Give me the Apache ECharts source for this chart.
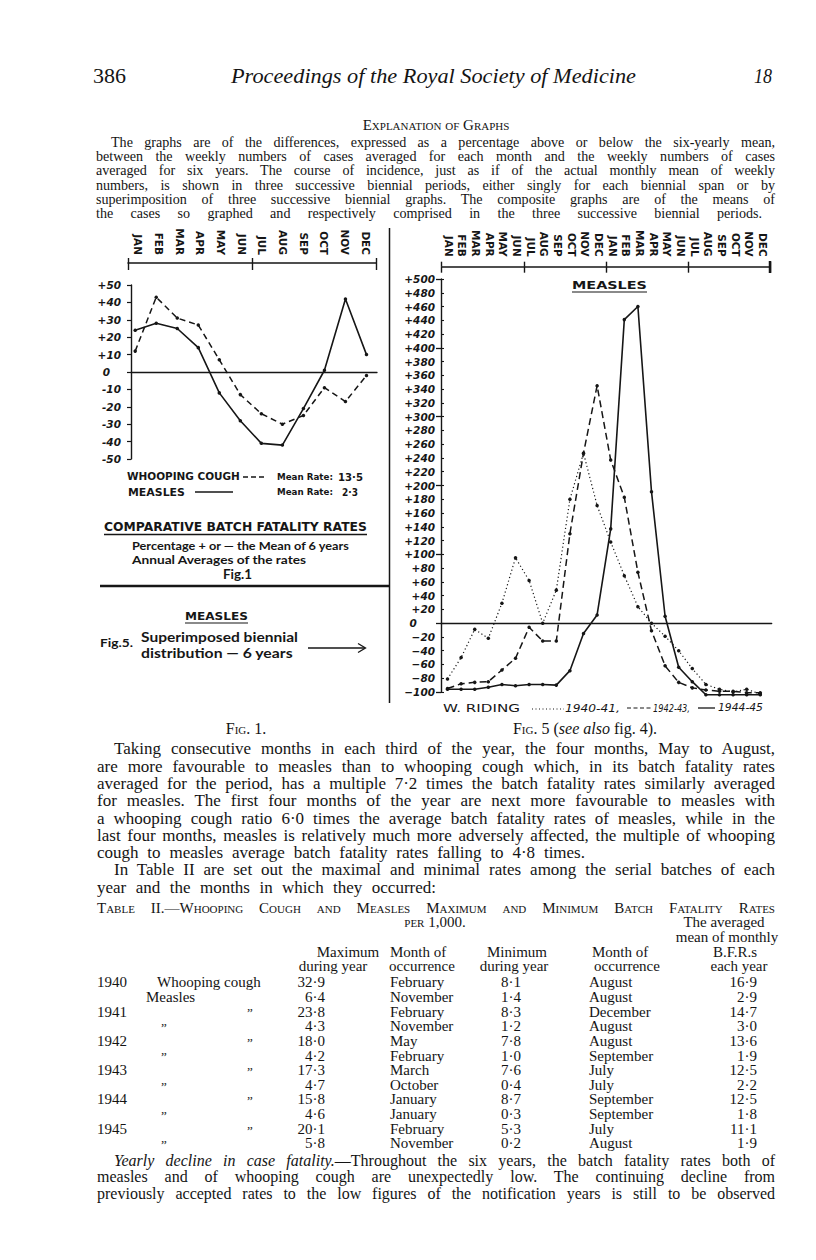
<!DOCTYPE html>
<html>
<head>
<meta charset="utf-8">
<title>Proceedings of the Royal Society of Medicine 386</title>
<script src="https://cdn.jsdelivr.net/npm/echarts@6/dist/echarts.min.js"></script>
<style>
  html, body { margin: 0; padding: 0; background: #fff; }
  #page { position: relative; width: 816px; height: 1260px; overflow: hidden; background: #fff; }
  #chart { position: absolute; left: 0; top: 0; width: 816px; height: 1260px; }
  .ln { position: absolute; white-space: nowrap; font-family: "Liberation Serif", serif; color: #141414; }
  .sc { font-variant: small-caps; }
</style>
</head>
<body>
<div id="page"><div id="chart"></div></div>
<script>
// ---- data ----
const months = ['JAN', 'FEB', 'MAR', 'APR', 'MAY', 'JUN', 'JUL', 'AUG', 'SEP', 'OCT', 'NOV', 'DEC'];
const monthsTwoYears = months.concat(months);

// Fig. 1: % above / below the 6-year mean of batch fatality rates
const whoopingCough = [12, 43, 31, 27, 7, -13, -24, -30, -25, -9, -17, -2];
const measlesRate = [24, 28, 25, 14, -12, -28, -41, -42, -21, 1, 42, 10];

// Fig. 5: measles, W. Riding, superimposed biennial periods
const riding1940 = [-81, -50, -9, -22, 29, 95, 62, 0, 48, 180, 247, 171, 118, 69, 24, 0, -19, -40, -66, -89, -96, -100, -96, -103];
const riding1942 = [-95, -88, -86, -85, -68, -51, -6, -26, -26, 130, 247, 345, 237, 183, 74, -11, -62, -86, -94, -97, -99, -99, -101, -101];
const riding1944 = [-96, -96, -96, -93, -89, -91, -89, -89, -90, -69, -15, 12, 137, 441, 460, 191, 10, -64, -85, -104, -104, -104, -104, -104];

// Table II
const tableYears = ['1940', '', '1941', '', '1942', '', '1943', '', '1944', '', '1945', ''];
const tableMax = ['32·9', '6·4', '23·8', '4·3', '18·0', '4·2', '17·3', '4·7', '15·8', '4·6', '20·1', '5·8'];
const tableMaxMonth = ['February', 'November', 'February', 'November', 'May', 'February', 'March', 'October', 'January', 'January', 'February', 'November'];
const tableMin = ['8·1', '1·4', '8·3', '1·2', '7·8', '1·0', '7·6', '0·4', '8·7', '0·3', '5·3', '0·2'];
const tableMinMonth = ['August', 'August', 'December', 'August', 'August', 'September', 'July', 'July', 'September', 'September', 'July', 'August'];
const tableMean = ['16·9', '2·9', '14·7', '3·0', '13·6', '1·9', '12·5', '2·2', '12·5', '1·8', '11·1', '1·9'];

const ink = '#161616';

// ---- helpers for the hand lettering inside the figures ----
const ctx = document.createElement('canvas').getContext('2d');
function measure(text, font) { ctx.font = font; return ctx.measureText(text).width; }
function letter(text, x1, x2, y, font) {
  return {
    type: 'text', x: x1, y: y, scaleX: (x2 - x1) / measure(text, font), silent: true,
    style: { text: text, font: font, fill: ink, textAlign: 'left', textVerticalAlign: 'middle' }
  };
}
function rule(x1, y1, x2, y2, w, dash) {
  return {
    type: 'line', silent: true, shape: { x1: x1, y1: y1, x2: x2, y2: y2 },
    style: { stroke: ink, lineWidth: w || 1, lineDash: dash || null }
  };
}
function signed(v, minus, zeroPad) {
  if (v > 0) return '+' + v;
  if (v < 0) return minus + Math.abs(v);
  return '0' + zeroPad;
}

const fLet = "bold 10px 'DejaVu Sans'";
const fHand = "bold 11px Lato";

const chart = echarts.init(document.getElementById('chart'), null, { renderer: 'svg', width: 816, height: 1260 });

const headerTicks = (grid, max, inside, len) => ({
  gridIndex: grid, type: 'value', position: 'top', min: 0, max: max, interval: 1,
  axisLine: { show: false, onZero: false },
  axisTick: { show: true, inside: inside, length: len, lineStyle: { color: ink, width: 1.4 } },
  axisLabel: { show: false }, splitLine: { show: false }
});

const option = {
  animation: false,
  textStyle: { fontFamily: 'DejaVu Sans', color: ink },
  grid: [
    { left: 128, top: 263, width: 248, height: 1 },       // fig 1 month header
    { left: 131, top: 285, width: 246, height: 174 },     // fig 1 plot
    { left: 441.7, top: 266.7, width: 328.3, height: 1 }, // fig 5 month header
    { left: 441, top: 279, width: 330.7, height: 413 }    // fig 5 plot
  ],
  xAxis: [
    { // 0
      gridIndex: 0, type: 'category', position: 'top', data: months, boundaryGap: true,
      axisLine: { onZero: false, lineStyle: { color: ink, width: 1.5 } },
      axisTick: { inside: true, length: 3, interval: 0, lineStyle: { color: ink, width: 1.2 } },
      axisLabel: { rotate: 90, interval: 0, margin: 8, fontSize: 10.5, fontWeight: 'bold', fontFamily: 'DejaVu Sans', color: ink }
    },
    headerTicks(0, 2, false, 5), // 1
    headerTicks(0, 2, true, 7),  // 2
    { // 3
      gridIndex: 1, type: 'value', min: -0.2, max: 11.5,
      axisLine: { onZero: true, lineStyle: { color: ink, width: 1.3 } },
      axisTick: { show: false }, axisLabel: { show: false }, splitLine: { show: false }
    },
    { // 4
      gridIndex: 2, type: 'category', position: 'top', data: monthsTwoYears, boundaryGap: true,
      axisLine: { onZero: false, lineStyle: { color: ink, width: 1.5 } },
      axisTick: { inside: true, length: 3, interval: 0, lineStyle: { color: ink, width: 1.2 } },
      axisLabel: { rotate: 90, interval: 0, margin: 10, fontSize: 10.5, fontWeight: 'bold', fontFamily: 'DejaVu Sans', color: ink }
    },
    headerTicks(2, 4, false, 5), // 5
    headerTicks(2, 4, true, 6),  // 6
    { // 7
      gridIndex: 3, type: 'value', min: -0.48, max: 23.84,
      axisLine: { onZero: true, lineStyle: { color: ink, width: 1.3 } },
      axisTick: { show: false }, axisLabel: { show: false }, splitLine: { show: false }
    }
  ],
  yAxis: [
    { gridIndex: 0, show: false },
    {
      gridIndex: 1, type: 'value', min: -50, max: 50, interval: 10,
      axisLine: { show: true, onZero: false, lineStyle: { color: ink, width: 1.4 } },
      axisTick: { show: true, length: 4, lineStyle: { color: ink, width: 1.2 } },
      axisLabel: {
        margin: 10, fontSize: 10.5, fontStyle: 'italic', fontWeight: 'bold', fontFamily: 'DejaVu Sans', color: ink,
        formatter: v => signed(v, '-', '\u00a0\u00a0\u00a0')
      },
      splitLine: { show: false }
    },
    { gridIndex: 2, show: false },
    {
      gridIndex: 3, type: 'value', min: -100, max: 500, interval: 20,
      axisLine: { show: true, onZero: false, lineStyle: { color: ink, width: 1.4 } },
      axisTick: { show: true, inside: true, length: 3, lineStyle: { color: ink, width: 1.1 } },
      axisLabel: {
        margin: 6, fontSize: 10.5, fontStyle: 'italic', fontWeight: 'bold', fontFamily: 'DejaVu Sans', color: ink,
        formatter: v => signed(v, '\u2212', '\u00a0\u00a0\u00a0\u00a0\u00a0')
      },
      splitLine: { show: false }
    },
    {
      gridIndex: 3, type: 'value', min: -100, max: 500, interval: 100, position: 'left',
      axisLine: { show: false, onZero: false },
      axisTick: { show: true, length: 5, lineStyle: { color: ink, width: 1.3 } },
      axisLabel: { show: false }, splitLine: { show: false }
    }
  ],
  series: [
    {
      name: 'Whooping cough', type: 'line', xAxisIndex: 3, yAxisIndex: 1,
      data: whoopingCough.map((v, i) => [i, v]),
      symbol: 'circle', symbolSize: 3.5, itemStyle: { color: ink },
      lineStyle: { color: ink, width: 1.5, type: [6, 4] }
    },
    {
      name: 'Measles', type: 'line', xAxisIndex: 3, yAxisIndex: 1,
      data: measlesRate.map((v, i) => [i, v]),
      symbol: 'circle', symbolSize: 3.5, itemStyle: { color: ink },
      lineStyle: { color: ink, width: 1.6 }
    },
    {
      name: '1940-41', type: 'line', xAxisIndex: 7, yAxisIndex: 3, clip: false,
      data: riding1940.map((v, i) => [i, v]),
      symbol: 'circle', symbolSize: 3.5, itemStyle: { color: ink },
      lineStyle: { color: ink, width: 1.2, type: [1.2, 2.6] }
    },
    {
      name: '1942-43', type: 'line', xAxisIndex: 7, yAxisIndex: 3, clip: false,
      data: riding1942.map((v, i) => [i, v]),
      symbol: 'circle', symbolSize: 3.5, itemStyle: { color: ink },
      lineStyle: { color: ink, width: 1.5, type: [7, 4] }
    },
    {
      name: '1944-45', type: 'line', xAxisIndex: 7, yAxisIndex: 3, clip: false,
      data: riding1944.map((v, i) => [i, v]),
      symbol: 'circle', symbolSize: 3.5, itemStyle: { color: ink },
      lineStyle: { color: ink, width: 1.6 }
    }
  ],
  graphic: {
    elements: [
      // fig 1 legend
      letter('WHOOPING COUGH', 127, 240, 477, fLet),
      rule(243, 477, 267, 477, 1.4, [5, 3]),
      letter('Mean Rate:', 277, 333, 477, "bold 9px 'DejaVu Sans'"),
      letter('13·5', 338, 363, 477, "bold 10.5px 'DejaVu Sans'"),
      letter('MEASLES', 128, 185, 492, fLet),
      rule(195, 492, 233, 492, 1.3),
      letter('Mean Rate:', 277, 333, 492, "bold 9px 'DejaVu Sans'"),
      letter('2·3', 342, 358, 492, "bold 10.5px 'DejaVu Sans'"),
      // fig 1 caption block
      letter('COMPARATIVE BATCH FATALITY RATES', 104, 367, 527, "bold 12px 'DejaVu Sans'"),
      rule(104, 534.5, 367, 534.5, 1.3),
      letter('Percentage + or \u2014 the Mean of 6 years', 132, 350, 546, fHand),
      letter('Annual Averages of the rates', 132, 307, 560, fHand),
      letter('Fig.1', 223, 252, 574, "bold 13px Lato"),
      rule(100, 586, 389, 586, 2.6),
      // fig 5 note on the left panel
      letter('MEASLES', 185, 248, 616, "bold 11px 'DejaVu Sans'"),
      rule(185, 623, 248, 623, 1.2),
      letter('Fig.5.', 100, 133, 642, "bold 12px Lato"),
      letter('Superimposed biennial', 141, 298, 637, "bold 12.5px Lato"),
      letter('distribution \u2014 6 years', 141, 293, 653, "bold 12.5px Lato"),
      rule(308, 648, 365, 648, 1.3),
      { type: 'polyline', silent: true, shape: { points: [[358, 643.5], [365.5, 648], [358, 652.5]] }, style: { stroke: ink, lineWidth: 1.3, fill: null } },
      rule(389.5, 228, 389.5, 703, 1.5),
      // fig 5 title and legend
      letter('MEASLES', 572, 647, 285, "bold 11px 'DejaVu Sans'"),
      rule(572, 292, 647, 292, 1.2),
      rule(770, 261, 770, 273, 2.5),
      letter('W. RIDING', 443, 520, 708, "11px 'DejaVu Sans'"),
      rule(532, 709, 564, 709, 1.2, [1, 2.5]),
      letter('1940-41,', 565, 620, 708, "italic 10.5px 'DejaVu Sans'"),
      rule(627, 708, 651, 708, 1.2, [4, 2.5]),
      letter('1942-43,', 653, 690, 708, "italic 10.5px 'DejaVu Sans'"),
      rule(698, 708, 715, 708, 1.3),
      letter('1944-45', 718, 763, 708, "italic 10.5px 'DejaVu Sans'")
    ]
  }
};
chart.setOption(option);

// ---- the printed page around the figures ----
const page = document.getElementById('page');
function put(html, x, y, size, opts) {
  opts = opts || {};
  const d = document.createElement('div');
  d.className = 'ln' + (opts.cls ? ' ' + opts.cls : '');
  d.innerHTML = html;
  d.style.fontSize = size + 'px';
  d.style.lineHeight = (size * 0.8) + 'px';
  if (opts.italic) d.style.fontStyle = 'italic';
  d.style.top = (y - size * 0.45) + 'px';
  page.appendChild(d);
  const nat = d.getBoundingClientRect().width;
  let left = x;
  if (opts.align === 'center') left = x - nat / 2;
  if (opts.align === 'right') left = x - nat;
  if (opts.w) {
    const gaps = (d.textContent.match(/ /g) || []).length;
    if (gaps) d.style.wordSpacing = ((opts.w - nat) / gaps) + 'px';
  }
  if (opts.fit) {
    d.style.transformOrigin = '0 50%';
    d.style.transform = 'scaleX(' + (opts.fit / nat) + ')';
  }
  d.style.left = left + 'px';
}

// running head
put('386', 93, 77, 20, { fit: 33 });
put('Proceedings of the Royal Society of Medicine', 231, 77, 22, { italic: true, fit: 405 });
put('18', 754, 77, 21, { italic: true, fit: 18 });

// explanation
put('Explanation of Graphs', 436, 126, 15, { cls: 'sc', align: 'center' });
const topPara = [
  'The graphs are of the differences, expressed as a percentage above or below the six-yearly mean,',
  'between the weekly numbers of cases averaged for each month and the weekly numbers of cases',
  'averaged for six years. The course of incidence, just as if of the actual monthly mean of weekly',
  'numbers, is shown in three successive biennial periods, either singly for each biennial span or by',
  'superimposition of three successive biennial graphs. The composite graphs are of the means of',
  'the cases so graphed and respectively comprised in the three successive biennial periods.'
];
topPara.forEach((t, i) => {
  const x = i === 0 ? 111 : 96;
  const right = i === topPara.length - 1 ? 762 : 775;
  put(t, x, 143 + i * 14.3, 14.1, { w: right - x });
});

// figure captions
put('<span class="sc">Fig</span>. 1.', 246, 730, 16, { align: 'center' });
put('<span class="sc">Fig</span>. 5 (<i>see also</i> fig. 4).', 585, 730, 16, { align: 'center' });

// body text
const bodyPara = [
  'Taking consecutive months in each third of the year, the four months, May to August,',
  'are more favourable to measles than to whooping cough which, in its batch fatality rates',
  'averaged for the period, has a multiple 7·2 times the batch fatality rates similarly averaged',
  'for measles. The first four months of the year are next more favourable to measles with',
  'a whooping cough ratio 6·0 times the average batch fatality rates of measles, while in the',
  'last four months, measles is relatively much more adversely affected, the multiple of whooping',
  'cough to measles average batch fatality rates falling to 4·8 times.',
  'In Table II are set out the maximal and minimal rates among the serial batches of each',
  'year and the months in which they occurred:'
];
const bodyEnds = [775, 775, 775, 775, 775, 775, 585, 775, 436];
bodyPara.forEach((t, i) => {
  const x = (i === 0 || i === 7) ? 114 : 97;
  put(t, x, 750 + i * 17.3, 17, { w: bodyEnds[i] - x });
});

// table II
put('Table II.\u2014Whooping Cough and Measles Maximum and Minimum Batch Fatality Rates', 97, 909, 15, { cls: 'sc', w: 678 });
put('per 1,000.', 435, 923, 15, { cls: 'sc', align: 'center' });
put('The averaged', 724, 923, 15, { align: 'center' });
put('mean of monthly', 727, 938, 15, { align: 'center' });
put('Maximum', 348, 953, 15, { align: 'center' });
put('during year', 333, 967, 15, { align: 'center' });
put('Month of', 418, 953, 15, { align: 'center' });
put('occurrence', 422, 967, 15, { align: 'center' });
put('Minimum', 517, 953, 15, { align: 'center' });
put('during year', 514, 967, 15, { align: 'center' });
put('Month of', 620, 953, 15, { align: 'center' });
put('occurrence', 627, 967, 15, { align: 'center' });
put('B.F.R.s', 735, 953, 15, { align: 'center' });
put('each year', 739, 967, 15, { align: 'center' });

tableMax.forEach((m, i) => {
  const y = 983 + i * 14.65;
  if (tableYears[i]) put(tableYears[i], 97, y, 15);
  if (i === 0) put('Whooping cough', 157, y, 15);
  else if (i === 1) put('Measles', 146, y, 15);
  else if (i % 2 === 0) put('\u201D', 247, y + 2, 13);
  else put('\u201D', 161, y + 2, 13);
  put(m, 325, y, 15, { align: 'right' });
  put(tableMaxMonth[i], 390, y, 15);
  put(tableMin[i], 521, y, 15, { align: 'right' });
  put(tableMinMonth[i], 589, y, 15);
  put(tableMean[i], 757, y, 15, { align: 'right' });
});

// closing paragraph
put('<i>Yearly decline in case fatality.</i>\u2014Throughout the six years, the batch fatality rates both of', 114, 1162, 16, { w: 661 });
put('measles and of whooping cough are unexpectedly low. The continuing decline from', 97, 1178.4, 16, { w: 678 });
put('previously accepted rates to the low figures of the notification years is still to be observed', 97, 1194.8, 16, { w: 678 });
</script>
</body>
</html>
